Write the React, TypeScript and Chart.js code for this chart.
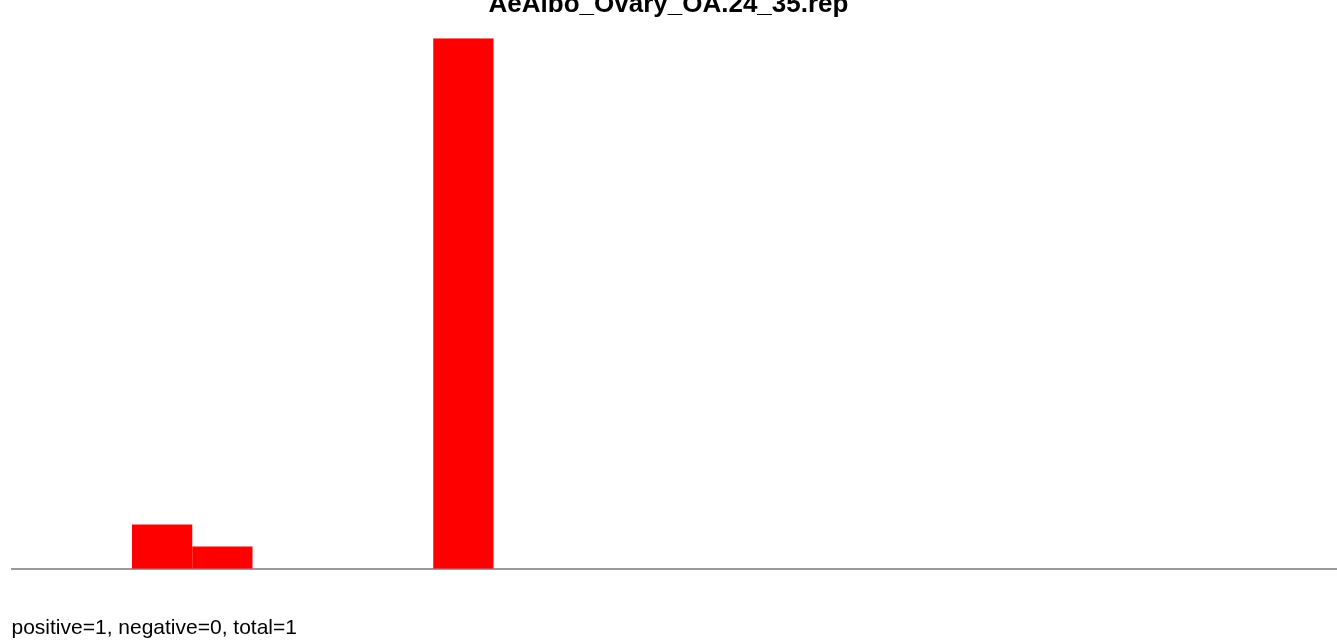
import React, { useEffect, useRef } from "react";
import { Chart, registerables } from "chart.js";

Chart.register(...registerables);

const chartTitle = "AeAlbo_Ovary_OA.24_35.rep";
const footerText = "positive=1, negative=0, total=1";
const binLabels = [
  "1", "2", "3", "4", "5", "6", "7", "8", "9", "10", "11",
  "12", "13", "14", "15", "16", "17", "18", "19", "20", "21", "22",
];
const binValues = [0, 0, 2, 1, 0, 0, 0, 24, 0, 0, 0, 0, 0, 0, 0, 0, 0, 0, 0, 0, 0, 0];
const yMax = 24;

export default function App() {
  const canvasRef = useRef<HTMLCanvasElement | null>(null);

  useEffect(() => {
    if (!canvasRef.current) return;
    const chart = new Chart(canvasRef.current, {
      type: "bar",
      data: {
        labels: binLabels,
        datasets: [
          {
            data: binValues,
            backgroundColor: "#ff0000",
            borderWidth: 0,
            inflateAmount: 0,
            barPercentage: 1,
            categoryPercentage: 1,
          },
        ],
      },
      options: {
        animation: false,
        responsive: false,
        layout: { padding: 0 },
        plugins: {
          legend: { display: false },
          tooltip: { enabled: false },
          title: {
            display: true,
            text: chartTitle,
            color: "#000000",
            font: { family: "'Liberation Sans', Arial, sans-serif", size: 26, weight: "bold" },
            padding: { top: -11, bottom: 18 },
          },
        },
        scales: {
          x: {
            display: true,
            grid: { display: false, drawTicks: false },
            ticks: { display: false },
            border: { display: true, color: "#9a9a9a", width: 2 },
            title: {
              display: true,
              text: footerText,
              align: "start",
              color: "#000000",
              font: { family: "'Liberation Sans', Arial, sans-serif", size: 21 },
              padding: { top: 47.1, bottom: 0 },
            },
          },
          y: {
            display: true,
            min: 0,
            max: yMax,
            grid: { display: false, drawTicks: false },
            ticks: { display: false },
            border: { display: false },
            afterFit: (scale: any) => {
              scale.width = 11.5;
            },
          },
        },
      },
    });
    return () => chart.destroy();
  }, []);

  return (
    <div style={{ position: "fixed", left: 0, top: 0, width: 1337, height: 641, background: "#fff" }}>
      <canvas ref={canvasRef} width={1337} height={641} />
    </div>
  );
}
